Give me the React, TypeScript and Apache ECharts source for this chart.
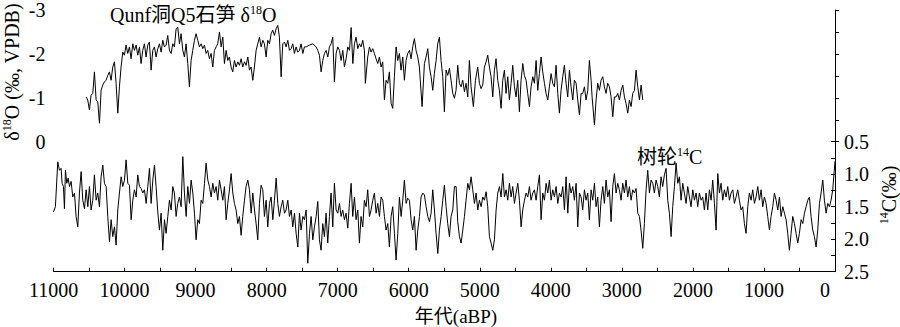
import React, { useEffect, useRef } from "react";
import * as echarts from "echarts";

// ---- axis ticks / labels ----
const xLabelYears = [11000, 10000, 9000, 8000, 7000, 6000, 5000, 4000, 3000, 2000, 1000, 0];
const leftTickLabels = ["-3", "-2", "-1", "0"];
const rightTickLabels = ["0.5", "1.0", "1.5", "2.0", "2.5"];

// ---- Qunf cave Q5 stalagmite δ18O (‰ VPDB) ----
const o18Years = [
  10541, 10518, 10494, 10471, 10447, 10424, 10400, 10377, 10353, 10330,
  10307, 10283, 10260, 10236, 10213, 10189, 10166, 10142, 10119, 10095,
  10072, 10049, 10025, 10002, 9978, 9955, 9931, 9908, 9884, 9861,
  9837, 9814, 9790, 9767, 9744, 9720, 9697, 9673, 9650, 9626,
  9603, 9579, 9556, 9532, 9509, 9485, 9462, 9439, 9415, 9392,
  9368, 9345, 9321, 9298, 9274, 9251, 9227, 9204, 9180, 9157,
  9134, 9110, 9087, 9063, 9040, 9016, 8993, 8969, 8946, 8922,
  8899, 8875, 8852, 8829, 8805, 8782, 8758, 8735, 8711, 8688,
  8664, 8641, 8617, 8594, 8570, 8547, 8524, 8500, 8477, 8453,
  8430, 8406, 8383, 8359, 8336, 8312, 8289, 8265, 8242, 8219,
  8195, 8172, 8148, 8125, 8101, 8078, 8054, 8031, 8007, 7984,
  7960, 7937, 7914, 7890, 7867, 7843, 7820, 7796, 7773, 7749,
  7726, 7702, 7679, 7655, 7632, 7609, 7585, 7562, 7538, 7515,
  7491, 7468, 7444, 7397, 7351, 7304, 7280, 7257, 7233, 7210,
  7186, 7163, 7139, 7116, 7093, 7069, 7046, 7022, 6999, 6975,
  6952, 6928, 6905, 6881, 6858, 6834, 6811, 6787, 6764, 6741,
  6717,
  6694, 6671, 6647, 6624, 6610, 6577, 6553, 6530, 6507, 6483,
  6460, 6436, 6413, 6389, 6366, 6342, 6319, 6295, 6272, 6248,
  6225, 6202, 6178, 6155, 6131, 6108, 6084, 6061, 6037, 6014,
  5990, 5967, 5944, 5920, 5897, 5873, 5850, 5812, 5779, 5756,
  5732, 5709, 5685, 5662, 5639, 5615, 5592, 5568, 5545, 5521,
  5498, 5474, 5451, 5427, 5404, 5380, 5357, 5334, 5310, 5287,
  5263, 5240, 5216, 5193, 5169, 5146, 5122, 5090, 5061, 5029,
  5005, 4982, 4958, 4935, 4911, 4888, 4864, 4841, 4817, 4794,
  4771, 4747, 4724, 4700, 4677, 4653, 4630, 4606, 4583, 4559,
  4536, 4512, 4489, 4466, 4442, 4419, 4395, 4372, 4348, 4325,
  4301, 4278, 4254, 4231, 4207, 4184, 4161, 4137, 4114, 4090,
  4067, 4043, 4020, 3996, 3973, 3949, 3926, 3902, 3879, 3856,
  3832, 3809, 3785, 3762, 3738, 3715, 3691, 3668, 3644, 3621,
  3597, 3574, 3551, 3527, 3504, 3480, 3457, 3433, 3419, 3386,
  3363, 3340, 3316, 3293, 3269, 3246, 3222, 3199, 3175, 3152,
  3128, 3105, 3081, 3058, 3034, 3011, 2987, 2964, 2941, 2917,
  2894, 2870, 2847, 2823, 2800, 2776, 2753, 2729, 2706,
];
const o18Values = [
  -1.02, -0.95, -0.72, -1.06, -1.10, -1.59, -0.95, -0.91, -0.42, -1.17,
  -1.29, -1.36, -1.40, -1.51, -1.59, -1.40, -1.70, -1.82, -1.33, -0.65,
  -1.25, -1.70, -2.04, -1.97, -2.20, -2.01, -2.16, -1.89, -2.23, -2.08,
  -2.20, -1.97, -2.16, -1.78, -2.08, -2.23, -1.93, -2.20, -2.27, -1.63,
  -2.08, -2.16, -1.93, -2.12, -2.23, -2.04, -2.31, -2.16, -2.20, -2.42,
  -2.08, -2.01, -2.23, -2.16, -2.57, -2.61, -2.23, -2.46, -2.08, -1.93,
  -2.23, -1.78, -1.25, -1.85, -2.08, -2.31, -2.46, -2.31, -2.16, -2.23,
  -2.12, -2.20, -2.01, -2.08, -1.89, -2.01, -1.70, -2.08, -2.16, -2.23,
  -2.50, -2.16, -2.38, -1.78, -2.08, -1.85, -1.93, -1.70, -1.59, -1.85,
  -1.70, -1.82, -1.74, -1.89, -1.70, -1.82, -1.74, -1.93, -1.63, -1.70,
  -1.40, -1.70, -2.08, -2.23, -2.38, -2.16, -2.31, -2.23, -1.93, -2.31,
  -2.23, -2.46, -2.54, -2.42, -2.57, -2.65, -2.38, -1.48, -2.23, -2.27,
  -2.16, -2.31, -2.08, -2.12, -2.23, -2.01, -2.16, -2.04, -2.08, -2.23,
  -2.01, -2.16, -2.16, -2.20, -2.23, -2.16, -2.08, -1.97, -1.59, -1.85,
  -2.01, -2.08, -1.93, -2.16, -2.23, -2.38, -1.36, -2.01, -2.16, -2.08,
  -1.85, -2.08, -1.70, -1.89, -2.16, -2.08, -2.60, -1.78, -2.23, -2.38,
  -2.12,
  -2.23, -2.16, -2.31, -2.08, -1.33, -1.93, -2.16, -2.04, -2.12, -2.01,
  -1.89, -1.78, -1.93, -1.70, -1.82, -0.95, -1.40, -1.33, -1.59, -0.87,
  -0.76, -1.48, -2.16, -1.85, -2.01, -1.63, -1.93, -1.40, -1.85, -2.01,
  -2.08, -1.89, -2.16, -2.35, -2.08, -1.93, -1.70, -0.80, -1.78, -1.93,
  -2.12, -1.70, -1.48, -1.17, -1.55, -1.85, -2.23, -2.38, -1.85, -1.48,
  -0.68, -1.63, -1.51, -1.67, -1.40, -1.10, -0.99, -1.17, -1.74, -1.33,
  -1.25, -1.40, -1.14, -1.33, -1.02, -1.85, -1.25, -0.80, -1.40, -1.70,
  -1.33, -1.21, -1.29, -1.70, -1.82, -1.97, -1.70, -1.48, -1.02, -1.63,
  -1.89, -1.40, -1.17, -0.76, -1.40, -1.63, -1.10, -1.48, -0.95, -1.33,
  -1.74, -1.25, -1.02, -1.40, -0.68, -1.40, -1.78, -1.51, -1.40, -1.10,
  -0.80, -1.25, -1.48, -1.33, -1.85, -1.17, -1.55, -1.93, -1.59, -1.33,
  -1.10, -0.95, -1.25, -1.55, -1.33, -1.25, -1.74, -1.10, -0.65, -1.17,
  -1.48, -1.74, -1.33, -1.02, -1.63, -1.25, -0.95, -1.40, -1.33, -0.95,
  -0.61, -1.10, -1.10, -1.25, -0.95, -1.17, -1.85, -1.40, -1.02, -0.38,
  -0.95, -1.33, -1.17, -1.40, -1.48, -1.25, -1.10, -1.33, -1.25, -1.02,
  -0.57, -1.02, -1.02, -1.10, -0.95, -1.17, -1.29, -1.02, -0.87, -0.65,
  -0.95, -0.80, -1.10, -1.17, -1.63, -1.25, -0.95, -1.29, -0.95,
];

// ---- tree-ring 14C (‰) ----
const c14Years = [
  11000, 10973, 10940, 10916, 10893, 10879, 10860, 10846, 10832, 10813,
  10794, 10775, 10752, 10729, 10705, 10682, 10658, 10635, 10611, 10588,
  10564, 10541, 10517, 10494, 10471, 10447, 10424, 10400, 10377, 10353,
  10330, 10306, 10283, 10259, 10236, 10212, 10189, 10166, 10142, 10119,
  10095, 10072, 10048, 10025, 10001, 9978, 9954, 9931, 9907, 9884,
  9861, 9837, 9814, 9790, 9767, 9743, 9720, 9696, 9673, 9649,
  9626, 9602, 9579, 9556, 9532, 9509, 9485, 9462, 9438, 9415,
  9391, 9368, 9344, 9321, 9298, 9274, 9251, 9227, 9204, 9180,
  9157, 9133, 9110, 9086, 9063, 9039, 9016, 8993, 8969, 8946,
  8922, 8899, 8875, 8852, 8828, 8805, 8781, 8758, 8735, 8711,
  8688, 8664, 8641, 8617, 8594, 8570, 8547, 8523, 8500, 8476,
  8453, 8430, 8406, 8383, 8359, 8336, 8312, 8289, 8265, 8242,
  8218, 8195, 8171, 8148, 8125, 8101, 8078, 8054, 8031, 8007,
  7984, 7960, 7937, 7913, 7890, 7866, 7843, 7820, 7796, 7773,
  7749, 7726, 7702, 7679, 7655, 7632, 7608, 7585, 7561, 7538,
  7515, 7491, 7468, 7444, 7421, 7397, 7374, 7350, 7327, 7303,
  7280,
  7257, 7234, 7210, 7187, 7163, 7140, 7116, 7093, 7069, 7046,
  7022, 6999, 6975, 6952, 6929, 6905, 6882, 6858, 6835, 6811,
  6788, 6764, 6741, 6717, 6694, 6671, 6647, 6624, 6600, 6577,
  6553, 6530, 6506, 6483, 6459, 6436, 6412, 6389, 6366, 6342,
  6319, 6295, 6272, 6248, 6225, 6201, 6178, 6154, 6131, 6107,
  6084, 6061, 6037, 6014, 5990, 5967, 5943, 5920, 5896, 5873,
  5849, 5826, 5802, 5779, 5755, 5732, 5709, 5685, 5662, 5638,
  5615, 5591, 5568, 5544, 5521, 5498, 5474, 5451, 5427, 5404,
  5380, 5357, 5333, 5310, 5286, 5263, 5239, 5216, 5193, 5169,
  5146, 5122, 5099, 5075, 5052, 5028, 5005, 4981, 4958, 4934,
  4911, 4888, 4864, 4841, 4817, 4794, 4770, 4747, 4723, 4700,
  4676, 4653, 4629, 4606, 4583, 4559, 4536, 4512, 4489, 4465,
  4442, 4418, 4395, 4371, 4348, 4324, 4301, 4278, 4254, 4231,
  4207, 4184, 4160, 4137, 4113, 4090, 4066, 4043, 4020, 3996,
  3973, 3949, 3926, 3902, 3879, 3855, 3832, 3808, 3785, 3761,
  3738, 3715, 3691, 3668, 3644, 3621, 3597,
  3574, 3551, 3527, 3504, 3480, 3457, 3433, 3410, 3386, 3363,
  3340, 3316, 3293, 3269, 3246, 3222, 3199, 3175, 3152, 3128,
  3105, 3081, 3058, 3035, 3011, 2988, 2964, 2941, 2917, 2894,
  2870, 2847, 2823, 2800, 2776, 2753, 2730, 2706, 2683, 2659,
  2636, 2612, 2589, 2565, 2542, 2518, 2495, 2472, 2448, 2425,
  2401, 2378, 2354, 2331, 2307, 2284, 2260, 2237, 2213, 2190,
  2167, 2143, 2120, 2096, 2073, 2049, 2026, 2002, 1979, 1955,
  1932, 1909, 1885, 1862, 1838, 1815, 1791, 1768, 1744, 1721,
  1697, 1674, 1650, 1627, 1604, 1580, 1557, 1533, 1510, 1486,
  1463, 1439, 1416, 1392, 1369, 1346, 1322, 1299, 1275, 1252,
  1228, 1205, 1181, 1158, 1134, 1111, 1087, 1064, 1040, 1017,
  994, 970, 947, 923, 900, 876, 853, 829, 806, 782,
  759, 735, 712, 688, 665, 642, 618, 595, 571, 548,
  524, 501, 477, 454, 430, 407, 383, 360, 337, 313,
  290, 266, 243, 219, 196, 172, 149, 125, 102, 78,
  55, 32, 0,
];
const c14Values = [
  1.58, 1.50, 0.81, 0.94, 0.91, 1.14, 1.19, 1.53, 0.94, 1.14,
  1.06, 1.19, 1.11, 1.35, 1.29, 1.65, 1.81, 1.29, 0.96, 1.40,
  1.53, 1.24, 1.50, 1.19, 1.55, 1.40, 1.01, 1.40, 1.29, 1.50,
  1.04, 0.86, 1.14, 1.19, 1.65, 2.04, 1.70, 1.96, 1.81, 2.09,
  1.55, 1.29, 1.04, 1.19, 1.09, 0.78, 1.14, 1.17, 1.70, 1.40,
  1.24, 1.35, 1.01, 1.19, 1.22, 1.29, 1.24, 1.45, 1.19, 0.91,
  1.45, 1.09, 0.86, 1.19, 1.58, 1.86, 1.60, 2.17, 1.70, 1.91,
  1.65, 1.40, 1.55, 1.19, 1.29, 1.65, 1.45, 1.35, 1.50, 0.73,
  1.29, 1.65, 1.19, 1.45, 1.09, 1.29, 1.60, 2.01, 1.70, 1.76,
  1.40, 1.45, 1.14, 0.83, 1.09, 1.19, 1.35, 1.14, 1.29, 1.19,
  1.40, 1.09, 1.24, 1.40, 1.19, 1.70, 1.45, 1.24, 0.99, 1.29,
  1.45, 1.55, 1.76, 1.65, 1.94, 1.65, 1.40, 1.19, 1.09, 1.24,
  1.60, 1.29, 1.55, 1.76, 2.01, 1.45, 1.17, 1.24, 1.65, 1.40,
  1.81, 1.45, 1.35, 1.70, 1.40, 1.06, 1.45, 1.65, 1.50, 1.40,
  1.60, 1.55, 1.40, 1.65, 1.55, 1.81, 1.60, 1.91, 2.12, 1.60,
  1.86, 1.65, 1.70, 1.55, 2.37, 1.91, 1.65, 2.01, 1.81, 1.65,
  1.42,
  2.01, 2.17, 1.76, 1.96, 1.60, 2.06, 1.65, 1.29, 1.81, 1.14,
  1.55, 1.60, 1.45, 1.65, 1.55, 1.70, 1.60, 1.83, 1.45, 1.14,
  1.65, 1.35, 1.70, 1.55, 2.06, 1.65, 1.81, 1.40, 1.50, 1.24,
  1.65, 1.55, 1.40, 1.29, 1.60, 1.45, 1.65, 1.35, 1.40, 1.65,
  1.86, 1.76, 2.12, 1.65, 1.50, 1.91, 2.32, 1.91, 1.35, 1.65,
  1.40, 1.09, 1.45, 1.37, 1.40, 1.70, 1.86, 1.65, 2.17, 1.86,
  1.65, 1.35, 1.29, 1.32, 1.50, 1.65, 1.73, 1.60, 1.24, 1.55,
  1.91, 2.22, 1.86, 1.65, 1.40, 1.17, 1.50, 1.76, 1.96, 1.65,
  1.55, 1.19, 1.19, 1.73, 1.96, 2.06, 1.86, 1.65, 1.40, 1.14,
  1.24, 1.04, 1.24, 1.45, 1.29, 1.55, 1.40, 1.50, 1.35, 1.40,
  1.27, 1.50, 1.96, 2.06, 2.17, 2.01, 1.55, 1.29, 1.19, 1.35,
  0.99, 1.35, 1.24, 1.40, 1.14, 1.35, 1.19, 1.45, 1.29, 1.14,
  1.40, 1.81, 1.55, 1.40, 1.29, 1.35, 1.19, 1.40, 1.29, 1.24,
  1.40, 1.19, 1.01, 1.70, 1.29, 1.40, 1.14, 1.29, 1.09, 1.40,
  1.24, 1.35, 1.19, 1.45, 1.29, 1.35, 1.19, 1.55, 1.04, 1.60,
  1.14, 1.29, 1.19, 1.40, 1.14, 1.81, 1.29,
  1.35, 1.55, 1.24, 1.40, 1.29, 1.70, 1.24, 1.40, 1.14, 1.50,
  1.35, 1.81, 1.40, 1.19, 1.45, 1.09, 1.35, 1.24, 1.73, 1.19,
  0.99, 1.29, 1.14, 1.24, 1.40, 1.14, 1.29, 1.09, 1.35, 1.19,
  1.40, 1.24, 1.29, 1.22, 1.60, 1.65, 1.86, 2.14, 1.76, 1.24,
  0.94, 1.29, 1.09, 1.14, 1.29, 1.09, 1.19, 1.35, 1.04, 1.19,
  1.01, 0.91, 1.40, 1.60, 1.96, 1.50, 1.19, 0.83, 1.14, 1.04,
  1.40, 1.14, 1.29, 1.45, 1.19, 1.35, 1.50, 1.24, 1.40, 1.29,
  1.50, 1.29, 1.40, 1.35, 1.55, 1.29, 1.55, 1.24, 1.40, 1.09,
  1.45, 1.86, 0.99, 1.29, 1.14, 1.40, 1.24, 1.35, 1.19, 1.40,
  1.29, 1.24, 1.45, 1.35, 1.24, 1.40, 1.55, 1.50, 1.76, 1.91,
  1.50, 1.29, 1.40, 1.24, 1.45, 1.35, 1.19, 1.40, 1.24, 1.50,
  1.35, 1.45, 1.65, 1.86, 1.65, 1.50, 1.29, 1.40, 1.55, 1.35,
  1.65, 1.50, 1.60, 1.70, 1.91, 2.17, 1.91, 1.65, 1.76, 1.91,
  2.06, 1.91, 1.70, 1.76, 1.60, 1.50, 1.40, 1.35, 1.65, 1.86,
  1.96, 2.12, 1.86, 1.45, 1.29, 1.09, 1.40, 1.60, 1.45, 1.50,
  1.40, 1.24, 0.80,
];

const SERIF = "Liberation Serif, Times New Roman, serif";
const MIXED = "Liberation Serif, Noto Sans CJK SC, serif";

export default function App() {
  const ref = useRef<HTMLDivElement>(null);

  useEffect(() => {
    if (!ref.current) return;
    const chart = echarts.init(ref.current, null, { renderer: "svg" });

    const richText = {
      a: { fontSize: 20, fontFamily: MIXED, fill: "#000", lineHeight: 22 },
      s: { fontSize: 12, fontFamily: SERIF, fill: "#000", lineHeight: 14, verticalAlign: "top" },
    };

    chart.setOption({
      animation: false,
      backgroundColor: "#fff",
      grid: [
        { left: 53.5, right: 65, top: 10, height: 131.7 },
        { left: 53.5, right: 65, top: 141.7, height: 130 },
      ],
      xAxis: [
        { gridIndex: 0, type: "value", min: 0, max: 11000, inverse: true, show: false },
        {
          gridIndex: 1,
          type: "value",
          min: 0,
          max: 11000,
          inverse: true,
          interval: 500,
          axisLine: { show: true, lineStyle: { color: "#000", width: 1 } },
          axisTick: { show: true, inside: true, length: 4, lineStyle: { color: "#000", width: 1 } },
          splitLine: { show: false },
          axisLabel: {
            margin: 8,
            fontSize: 20,
            color: "#000",
            fontFamily: SERIF,
            formatter: (v: number) => {
              if (!xLabelYears.includes(v)) return "";
              return v === 0 ? "{z|0}" : String(v);
            },
            rich: {
              z: { fontSize: 20, fontFamily: SERIF, color: "#000", padding: [0, 20, 0, 0] },
            },
          },
        },
      ],
      yAxis: [
        {
          gridIndex: 0,
          type: "value",
          position: "left",
          min: -3,
          max: 0,
          interval: 0.5,
          inverse: true,
          axisLine: { show: true, lineStyle: { color: "#000", width: 1 } },
          axisTick: { show: true, inside: true, length: 4, lineStyle: { color: "#000", width: 1 } },
          splitLine: { show: false },
          axisLabel: {
            margin: 8,
            fontSize: 20,
            color: "#000",
            fontFamily: SERIF,
            formatter: (v: number) => {
              const s = String(Math.round(v));
              return Number.isInteger(v) && leftTickLabels.includes(s) ? s : "";
            },
          },
        },
        {
          gridIndex: 1,
          type: "value",
          position: "right",
          min: 0.5,
          max: 2.5,
          interval: 0.25,
          inverse: true,
          axisLine: { show: true, lineStyle: { color: "#000", width: 1 } },
          axisTick: { show: true, inside: true, length: 4, lineStyle: { color: "#000", width: 1 } },
          splitLine: { show: false },
          axisLabel: {
            margin: 9,
            fontSize: 20,
            color: "#000",
            fontFamily: SERIF,
            formatter: (v: number) => {
              const s = v.toFixed(1);
              return Math.abs(v * 2 - Math.round(v * 2)) < 1e-6 && rightTickLabels.includes(s) ? s : "";
            },
          },
        },
      ],
      series: [
        {
          type: "line",
          xAxisIndex: 0,
          yAxisIndex: 0,
          data: o18Years.map((y, i) => [y, o18Values[i]]),
          showSymbol: false,
          symbol: "none",
          silent: true,
          lineStyle: { color: "#000", width: 1 },
        },
        {
          type: "line",
          xAxisIndex: 1,
          yAxisIndex: 1,
          data: c14Years.map((y, i) => [y, c14Values[i]]),
          showSymbol: false,
          symbol: "none",
          silent: true,
          lineStyle: { color: "#000", width: 1 },
        },
      ],
      graphic: [
        {
          type: "text",
          x: 110,
          y: 14.5,
          silent: true,
          style: {
            text: "{a|Qunf洞Q5石笋 δ}{s|18}{a|O}",
            rich: richText,
            align: "left",
            verticalAlign: "middle",
            fill: "#000",
          },
        },
        {
          type: "text",
          x: 637,
          y: 157,
          silent: true,
          style: {
            text: "{a|树轮}{s|14}{a|C}",
            rich: richText,
            align: "left",
            verticalAlign: "middle",
            fill: "#000",
          },
        },
        {
          type: "text",
          x: 12,
          y: 72,
          rotation: Math.PI / 2,
          silent: true,
          style: {
            text: "{a|δ}{s|18}{a|O (‰, VPDB)}",
            rich: richText,
            align: "center",
            verticalAlign: "middle",
            fill: "#000",
          },
        },
        {
          type: "text",
          x: 889,
          y: 195,
          rotation: Math.PI / 2,
          silent: true,
          style: {
            text: "{s|14}{a|C(‰)}",
            rich: richText,
            align: "center",
            verticalAlign: "middle",
            fill: "#000",
          },
        },
        {
          type: "text",
          x: 456,
          y: 316,
          silent: true,
          style: {
            text: "年代(aBP)",
            fontSize: 19,
            fontFamily: MIXED,
            align: "center",
            verticalAlign: "middle",
            fill: "#000",
          },
        },
      ],
    });

    return () => chart.dispose();
  }, []);

  return (
    <div
      ref={ref}
      style={{ position: "fixed", left: 0, top: 0, width: 900, height: 327, background: "#fff" }}
    />
  );
}
